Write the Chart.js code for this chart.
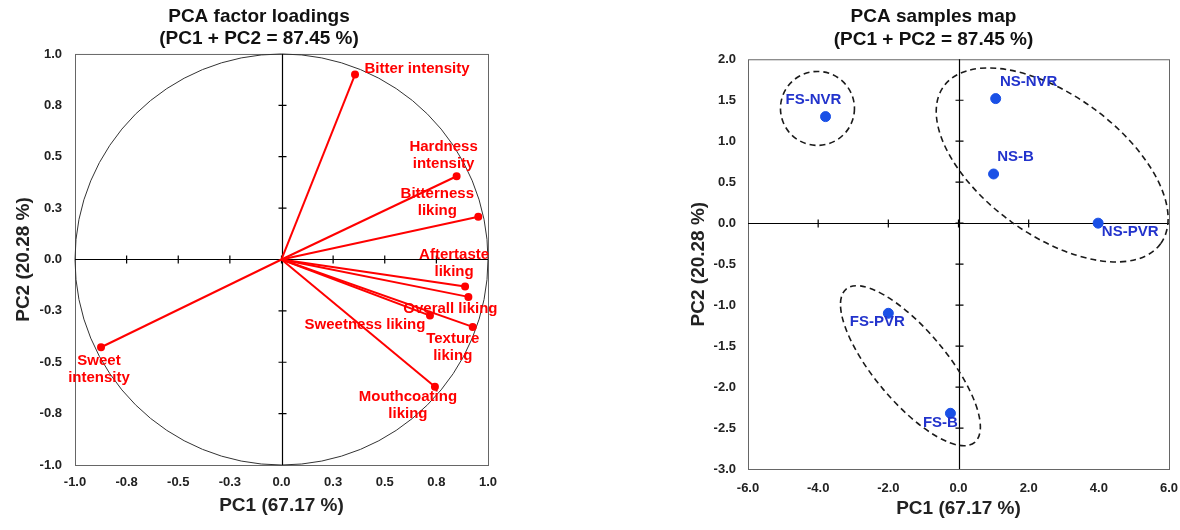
<!DOCTYPE html>
<html>
<head>
<meta charset="utf-8">
<script src="https://cdn.jsdelivr.net/npm/chart.js@4"></script>
<style>
  body { margin: 0; background: #fff; overflow: hidden; }
  .box { position: absolute; top: 0; height: 530px; }
</style>
</head>
<body>
<div class="box" style="left:0;width:518px"><canvas id="loadings"></canvas></div>
<div class="box" style="left:687px;width:493px"><canvas id="samples"></canvas></div>
<script>
// factor loadings
const variables = ['Bitter intensity', 'Hardness intensity', 'Bitterness liking', 'Aftertaste liking',
                   'Overall liking', 'Sweetness liking', 'Texture liking', 'Mouthcoating liking', 'Sweet intensity'];
const loadPC1 = [0.356, 0.848, 0.953, 0.889, 0.905, 0.719, 0.926, 0.743, -0.874];
const loadPC2 = [0.900, 0.405, 0.208, -0.132, -0.182, -0.273, -0.328, -0.619, -0.427];

// sample scores
const samples = ['FS-NVR', 'NS-NVR', 'NS-B', 'NS-PVR', 'FS-PVR', 'FS-B'];
const scorePC1 = [-3.79, 1.06, 1.00, 3.98, -2.00, -0.23];
const scorePC2 = [1.30, 1.52, 0.60, 0.00, -1.10, -2.32];

const titleText = ['PCA factor loadings', '(PC1 + PC2 = 87.45 %)'];
const titleText2 = ['PCA samples map', '(PC1 + PC2 = 87.45 %)'];

Chart.defaults.font.family = '"Liberation Sans", Arial, sans-serif';
Chart.defaults.font.weight = 'bold';
Chart.defaults.color = '#222';

// label placement (pixel offsets from point)
const loadLabelOffsets = [[62, -6], [-13, -21], [-41, -14], [-11, -23], [-18, 12], [-65, 9], [-20, 20], [-27, 19], [-2, 22]];
const sampleLabelOffsets = [[-12, -17], [33, -17], [22, -17], [32, 9], [-11, 9], [-10, 10]];

// dashed groups: center in data units, radii px, rotation deg
const groups = [
  { cx: -4.02, cy: 1.40, rx: 37, ry: 37, rot: 0 },
  { cx: 2.67, cy: 0.71, rx: 134, ry: 70, rot: 36 },
  { cx: -1.37, cy: -1.74, rx: 100, ry: 36, rot: 50 }
];

const framePlugin = {
  id: 'frame',
  beforeDatasetsDraw(chart, args, opts) {
    const { ctx, chartArea: a, scales: { x, y } } = chart;
    ctx.save();
    ctx.strokeStyle = '#666';
    ctx.lineWidth = 1;
    ctx.strokeRect(a.left + 0.5, a.top + 0.5, a.right - a.left, a.bottom - a.top);
    if (opts.circle) {
      ctx.strokeStyle = '#333';
      ctx.beginPath();
      ctx.ellipse(x.getPixelForValue(0), y.getPixelForValue(0),
        x.getPixelForValue(1) - x.getPixelForValue(0), y.getPixelForValue(0) - y.getPixelForValue(1), 0, 0, Math.PI * 2);
      ctx.stroke();
    }
    // zero lines with tick marks
    const x0 = Math.round(x.getPixelForValue(0)) + 0.5;
    const y0 = Math.round(y.getPixelForValue(0)) + 0.5;
    ctx.strokeStyle = '#000';
    ctx.lineWidth = 1.2;
    ctx.beginPath();
    ctx.moveTo(a.left, y0); ctx.lineTo(a.right, y0);
    ctx.moveTo(x0, a.top); ctx.lineTo(x0, a.bottom);
    x.ticks.slice(1, -1).forEach(t => {
      const px = x.getPixelForValue(t.value);
      ctx.moveTo(px, y0 - 4); ctx.lineTo(px, y0 + 4);
    });
    y.ticks.slice(1, -1).forEach(t => {
      const py = y.getPixelForValue(t.value);
      ctx.moveTo(x0 - 4, py); ctx.lineTo(x0 + 4, py);
    });
    ctx.stroke();
    if (opts.groups) {
      ctx.strokeStyle = '#1a1a1a';
      ctx.lineWidth = 1.6;
      ctx.setLineDash([6, 4]);
      opts.groups.forEach(g => {
        ctx.beginPath();
        ctx.ellipse(x.getPixelForValue(g.cx), y.getPixelForValue(g.cy), g.rx, g.ry, g.rot * Math.PI / 180, 0, Math.PI * 2);
        ctx.stroke();
      });
    }
    ctx.restore();
  },
  afterDatasetsDraw(chart, args, opts) {
    const { ctx, scales: { x, y } } = chart;
    ctx.save();
    ctx.font = 'bold 15px "Liberation Sans", Arial, sans-serif';
    ctx.fillStyle = opts.labelColor;
    ctx.textAlign = 'center';
    ctx.textBaseline = 'middle';
    opts.labels.forEach((txt, i) => {
      const px = x.getPixelForValue(opts.xs[i]) + opts.offsets[i][0];
      const py = y.getPixelForValue(opts.ys[i]) + opts.offsets[i][1];
      const lines = opts.wrap && !opts.singleLine.includes(i) ? txt.split(' ') : [txt];
      lines.forEach((l, k) => ctx.fillText(l, px, py + (k - (lines.length - 1) / 2) * 17));
    });
    ctx.restore();
  }
};

function axis(min, max, step, title, pos, fit, tickPad, titlePad, padRight) {
  return {
    type: 'linear', position: pos, min: min, max: max,
    grid: { display: false, drawTicks: false },
    border: { display: false },
    ticks: { stepSize: step, padding: tickPad, font: { size: 13, weight: 'bold' }, color: '#222',
      callback: v => v.toFixed(1) },
    title: { display: true, text: title, font: { size: 19, weight: 'bold' }, color: '#222', padding: titlePad },
    afterFit: s => {
      if (pos === 'left') { s.width = fit; }
      else { s.height = fit; s.paddingRight = padRight; }
    }
  };
}

new Chart(document.getElementById('loadings'), {
  type: 'scatter',
  data: {
    datasets: variables.map((v, i) => ({
      label: v,
      data: [{ x: 0, y: 0 }, { x: loadPC1[i], y: loadPC2[i] }],
      showLine: true,
      borderColor: '#ff0000',
      backgroundColor: '#ff0000',
      borderWidth: 2,
      pointRadius: [0, 3]
    }))
  },
  options: {
    responsive: true, maintainAspectRatio: false, animation: false,
    layout: { padding: 0 },
    plugins: {
      legend: { display: false }, tooltip: { enabled: false },
      title: { display: true, text: titleText, font: { size: 19, weight: 'bold', lineHeight: 1.17 }, color: '#111',
        padding: { top: 5.5, bottom: 4 } },
      frame: { circle: true, labels: variables, xs: loadPC1, ys: loadPC2, offsets: loadLabelOffsets,
        labelColor: '#ff0000', wrap: true, singleLine: [0, 4, 5] }
    },
    scales: {
      x: axis(-1, 1, 0.25, 'PC1 (67.17 %)', 'bottom', 65, 10, { top: 4, bottom: 13 }, 30),
      y: axis(-1, 1, 0.25, 'PC2 (20.28 %)', 'left', 75, 13, { top: 12, bottom: 0 })
    }
  },
  plugins: [framePlugin]
});

new Chart(document.getElementById('samples'), {
  type: 'scatter',
  data: {
    datasets: [{
      label: 'Samples',
      data: samples.map((s, i) => ({ x: scorePC1[i], y: scorePC2[i] })),
      backgroundColor: '#1a50e6',
      borderColor: '#1a50e6',
      pointRadius: 5
    }]
  },
  options: {
    responsive: true, maintainAspectRatio: false, animation: false,
    layout: { padding: 0 },
    plugins: {
      legend: { display: false }, tooltip: { enabled: false },
      title: { display: true, text: titleText2, font: { size: 19, weight: 'bold', lineHeight: 1.17 }, color: '#111',
        padding: { top: 6, bottom: 8.8 } },
      frame: { groups: groups, labels: samples, xs: scorePC1, ys: scorePC2, offsets: sampleLabelOffsets,
        labelColor: '#2233cc', wrap: false, singleLine: [] }
    },
    scales: {
      x: axis(-6, 6, 2, 'PC1 (67.17 %)', 'bottom', 61, 12, { top: 4, bottom: 10 }, 11),
      y: axis(-3, 2, 0.5, 'PC2 (20.28 %)', 'left', 61, 12, { top: 0, bottom: 0 })
    }
  },
  plugins: [framePlugin]
});
</script>
</body>
</html>
